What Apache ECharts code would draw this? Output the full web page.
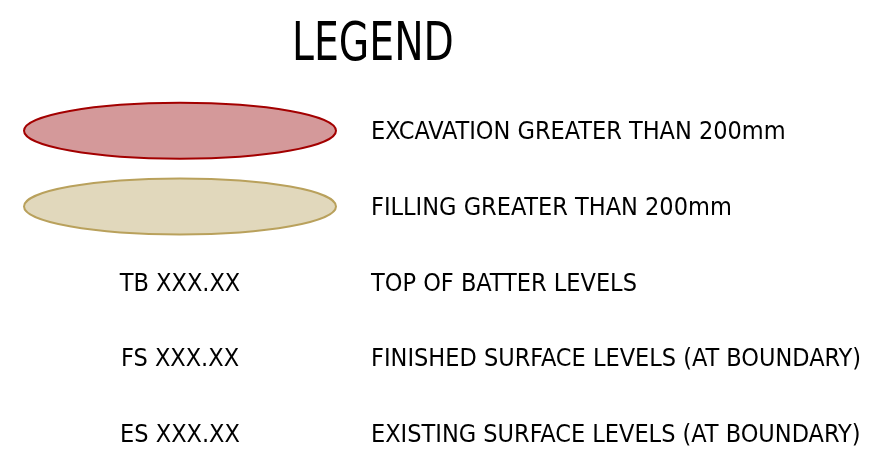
<!DOCTYPE html>
<html>
<head>
<meta charset="utf-8">
<script src="https://cdn.jsdelivr.net/npm/echarts@6/dist/echarts.min.js"></script>
<style>
  html, body { margin: 0; padding: 0; background: #fff; }
  #main { width: 892px; height: 471px; }
</style>
</head>
<body>
<div id="main"></div>
<script>
// legend rows, top to bottom
const rows = ['excavation', 'filling', 'tb', 'fs', 'es']
const symbolLabels = ['', '', 'TB XXX.XX', 'FS XXX.XX', 'ES XXX.XX']
const descriptions = [
  'EXCAVATION GREATER THAN 200mm',
  'FILLING GREATER THAN 200mm',
  'TOP OF BATTER LEVELS',
  'FINISHED SURFACE LEVELS (AT BOUNDARY)',
  'EXISTING SURFACE LEVELS (AT BOUNDARY)'
]
const swatchRows = ['excavation', 'filling']

const font = '"DejaVu Sans Condensed", "DejaVu Sans", sans-serif'
const swatchStyles = [
  { fill: '#d4999a', stroke: '#a30000' },
  { fill: '#e1d8bc', stroke: '#b9a15c' }
]

const SYMBOL_X = 180
const TEXT_X = 371

const chart = echarts.init(document.getElementById('main'))

const option = {
  animation: false,
  graphic: [
    {
      type: 'text',
      x: 292,
      y: 46,
      scaleX: 0.81,
      style: {
        text: 'LEGEND',
        font: '54px ' + font,
        fill: '#000',
        verticalAlign: 'middle'
      }
    }
  ],
  grid: { left: 0, right: 0, top: 93, height: 379 },
  xAxis: { type: 'value', min: 0, max: 892, show: false },
  yAxis: { type: 'category', data: rows, inverse: true, show: false },
  series: [
    {
      // ellipse swatches
      type: 'custom',
      silent: true,
      data: swatchRows.map(r => [SYMBOL_X, r]),
      renderItem(params, api) {
        const c = api.coord([api.value(0), api.value(1)])
        const s = swatchStyles[params.dataIndex]
        return {
          type: 'ellipse',
          shape: { cx: c[0], cy: c[1], rx: 156, ry: 28 },
          style: { fill: s.fill, stroke: s.stroke, lineWidth: 2 }
        }
      }
    },
    {
      // level text labels in the symbol column
      type: 'scatter',
      symbolSize: 0,
      itemStyle: { opacity: 1 },
      data: rows.map((r, i) => ({ value: [SYMBOL_X, r], name: symbolLabels[i] })).filter(d => d.name),
      label: {
        show: true, position: 'inside', formatter: p => p.name, offset: [0, 2],
        fontFamily: font, fontSize: 25, color: '#000'
      },
      silent: true
    },
    {
      // descriptions
      type: 'scatter',
      symbolSize: 0,
      itemStyle: { opacity: 1 },
      data: rows.map((r, i) => ({ value: [TEXT_X, r], name: descriptions[i] })),
      label: {
        show: true, position: 'right', distance: 0, formatter: p => p.name, offset: [0, 2],
        fontFamily: font, fontSize: 25, color: '#000'
      },
      silent: true
    }
  ]
}

chart.setOption(option)
</script>
</body>
</html>
